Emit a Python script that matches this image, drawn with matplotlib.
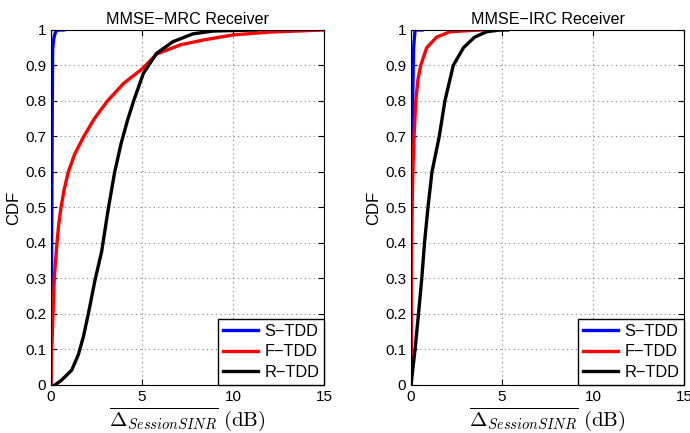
import numpy as np
import matplotlib
matplotlib.use('Agg')
import matplotlib.pyplot as plt

plt.rcParams['font.family'] = ['Liberation Sans', 'DejaVu Sans']
plt.rcParams['mathtext.fontset'] = 'cm'

# MMSE-MRC receiver curves (x in dB, y = CDF)
mrc_s_x = [0, 0.03, 0.06, 0.09, 0.15, 0.22, 0.29, 0.4, 0.7]
mrc_s_y = [0, 0.3, 0.7, 0.944, 0.975, 0.99, 0.997, 1.0, 1.0]
mrc_f_x = [0, 0.04, 0.11, 0.18, 0.25, 0.33, 0.42, 0.55, 0.72, 0.95, 1.3, 1.8, 2.38, 3.1,
           4.0, 5.0, 5.8, 7.1, 8.4, 10, 12, 15]
mrc_f_y = [0, 0.1, 0.2, 0.3, 0.35, 0.4, 0.45, 0.5, 0.55, 0.6, 0.65, 0.7, 0.75, 0.8,
           0.85, 0.89, 0.932, 0.958, 0.972, 0.986, 0.994, 1.0]
mrc_r_x = [0.22, 0.59, 1.14, 1.5, 1.78, 2.05, 2.42, 2.78, 3.15, 3.5, 3.85, 4.2, 4.54, 5.07,
           5.8, 6.7, 7.8, 8.9, 11.3]
mrc_r_y = [0, 0.014, 0.042, 0.085, 0.136, 0.2, 0.296, 0.375, 0.497, 0.6, 0.68, 0.745, 0.8,
           0.877, 0.934, 0.967, 0.989, 0.997, 1.0]

# MMSE-IRC receiver curves
irc_s_x = [0, 0.02, 0.05, 0.09, 0.14, 0.22, 0.6]
irc_s_y = [0, 0.5, 0.7, 0.8, 0.95, 1.0, 1.0]
irc_f_x = [0, 0.02, 0.06, 0.1, 0.165, 0.26, 0.38, 0.53, 0.86, 1.41, 2.14, 3.8, 4.0]
irc_f_y = [0, 0.3, 0.5, 0.6, 0.7, 0.8, 0.86, 0.9, 0.95, 0.98, 0.995, 1.0, 1.0]
irc_r_x = [0, 0.22, 0.41, 0.59, 0.74, 0.93, 1.15, 1.55, 1.86, 2.32, 2.88, 3.5, 4.15, 4.9, 5.3]
irc_r_y = [0, 0.1, 0.2, 0.3, 0.4, 0.5, 0.6, 0.7, 0.8, 0.9, 0.95, 0.98, 0.995, 1.0, 1.0]

labels = ['S\u2212TDD', 'F\u2212TDD', 'R\u2212TDD']
colors = ['#0000ff', '#ff0000', '#000000']

fig = plt.figure(figsize=(6.9, 4.33), dpi=100)
ax1 = fig.add_axes([0.0739, 0.1109, 0.3957, 0.8199])
ax2 = fig.add_axes([0.5957, 0.1109, 0.3957, 0.8199])

panels = [
    (ax1, 'MMSE\u2212MRC Receiver', [(mrc_s_x, mrc_s_y), (mrc_f_x, mrc_f_y), (mrc_r_x, mrc_r_y)]),
    (ax2, 'MMSE\u2212IRC Receiver', [(irc_s_x, irc_s_y), (irc_f_x, irc_f_y), (irc_r_x, irc_r_y)]),
]

for ax, title, curves in panels:
    for (x, y), lab, c in zip(curves, labels, colors):
        ax.plot(x, y, color=c, lw=2.4, label=lab, solid_joinstyle='round')
    ax.set_xlim(0, 15)
    ax.set_ylim(0, 1)
    ax.set_xticks([0, 5, 10, 15])
    ax.set_yticks(np.arange(0, 1.01, 0.1))
    ax.set_yticklabels(['0', '0.1', '0.2', '0.3', '0.4', '0.5', '0.6', '0.7', '0.8', '0.9', '1'])
    ax.grid(True, linestyle=(0, (1, 3)), color='#808080', linewidth=0.8)
    ax.tick_params(direction='in', top=True, right=True, labelsize=11, length=4)
    ax.set_title(title, fontsize=11.6, pad=4)
    ax.set_ylabel('CDF', fontsize=12, labelpad=3)
    ax.set_xlabel(r'$\overline{\Delta_{SessionSINR}}\ \mathrm{(dB)}$', fontsize=15, labelpad=1)
    leg = ax.legend(loc='lower right', fontsize=11.7, fancybox=False, framealpha=1,
                    edgecolor='black', borderaxespad=0, handlelength=2.15,
                    borderpad=0.3, labelspacing=0.35, handletextpad=0.4)
    leg.get_frame().set_linewidth(1.0)

fig.savefig('out.png', dpi=100)
